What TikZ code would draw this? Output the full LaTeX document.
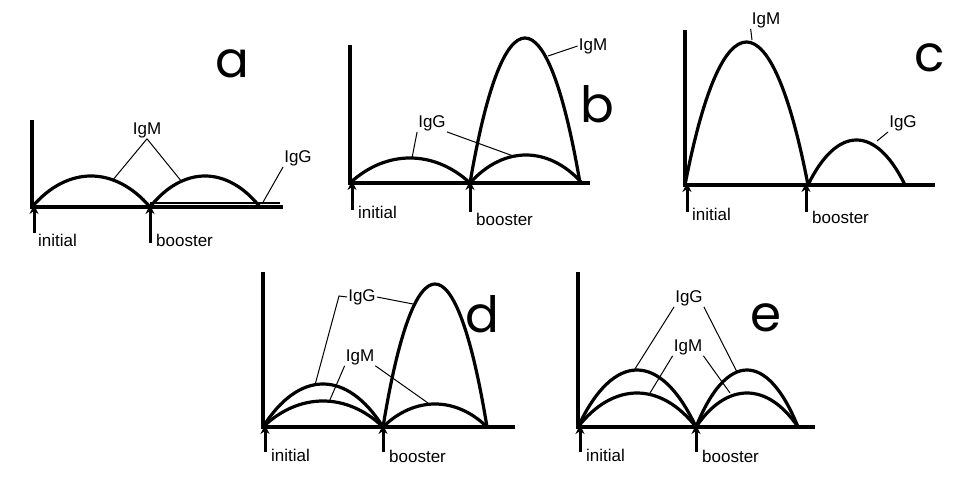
\documentclass[tikz,border=0pt]{standalone}
\usetikzlibrary{arrows.meta}
\usepackage{fontspec}
\setmainfont{Liberation Sans}
\newfontfamily\hand{Poppins}
\newcommand\hump[4]{%
 \pgfmathsetmacro\ha{#1+(#2-#1)*0.3}\pgfmathsetmacro\hb{#1+(#2-#1)*0.7}\pgfmathsetmacro\hy{#3+(#4-#3)*4/3}%
 \draw[curve] (#1,#3) .. controls (\ha,\hy) and (\hb,\hy) .. (#2,#3);}
\tikzset{curve/.style={line width=3.2pt,line join=round},
 axis/.style={line width=3.2pt},
 lead/.style={line width=1pt},
 lbl/.style={font=\fontsize{17}{19}\selectfont,inner sep=1pt},
 tag/.style={anchor=west,font=\fontsize{17}{19}\selectfont,inner sep=0pt},
 big/.style={font=\hand\fontsize{50}{50}\selectfont,inner sep=0pt},
 upar/.style={line width=3pt,-{Stealth[length=9pt,width=9pt]}}}
\begin{document}
\begin{tikzpicture}[x=1pt,y=-1pt]
\useasboundingbox (0,0) rectangle (960,486);
% ---- a
\draw[axis] (32,120) -- (32,207) -- (283,207);
\draw[line width=1.8pt] (150,203) -- (280,203);
\hump{32}{150}{207}{176}\hump{150}{260}{207}{176}
\node[lbl] (aM) at (147,130) {IgM};
\draw[lead] (aM.south) -- (112,181) (aM.south) -- (182,182);
\node[lbl] (aG) at (298,158) {IgG};
\draw[lead] (aG.south west) -- (262,204);
\draw[upar] (34,233) -- (34,205); \node[tag] (ai) at (38,240) {initial};
\draw[upar] (150,243) -- (150,205); \node[tag] (ab) at (156,240) {booster};
\node[big] (la) at (232,64) {a};
% ---- b
\draw[axis] (350,45) -- (350,183) -- (590,183);
\hump{350}{470}{183}{158}\hump{470}{582}{183}{155}\hump{470}{580}{183}{38}
\node[lbl] (bM) at (593,46) {IgM};
\draw[lead] (bM.west) -- (548,56);
\node[lbl] (bG) at (432,123) {IgG};
\draw[lead] (bG.south west) -- (412,158) (bG.south east) -- (516,157);
\draw[upar] (352,210) -- (352,181); \node[tag] (bi) at (358,212) {initial};
\draw[upar] (470,212) -- (470,181); \node[tag] (bb) at (476,219) {booster};
\node[big] (lb) at (597,104) {b};
% ---- c
\draw[axis] (685,30) -- (685,185) -- (935,185);
\hump{685}{808}{185}{42}\hump{808}{905}{185}{140}
\node[lbl] (cM) at (766,20) {IgM};
\draw[lead] (cM.south west) -- (752,40);
\node[lbl] (cG) at (903,123) {IgG};
\draw[lead] (cG.south west) -- (877,141);
\draw[upar] (687,212) -- (687,183); \node[tag] (ci) at (692,214) {initial};
\draw[upar] (806,212) -- (806,183); \node[tag] (cb) at (812,217) {booster};
\node[big] (lc) at (930,58) {c};
% ---- d
\draw[axis] (263,272) -- (263,427) -- (515,427);
\hump{263}{383}{427}{384}\hump{263}{383}{427}{401}
\hump{383}{487}{427}{284}\hump{383}{487}{427}{404}
\node[lbl] (dG) at (362,297) {IgG};
\draw[lead] (dG.west) -- (339,296) -- (315,385) (dG.east) -- (413,304);
\node[lbl] (dM) at (360,357) {IgM};
\draw[lead] (dM.south west) -- (329,402) (dM.south east) -- (428,403);
\draw[upar] (265,452) -- (265,425); \node[tag] (di) at (271,455) {initial};
\draw[upar] (383,452) -- (383,425); \node[tag] (db) at (389,456) {booster};
\node[big] (ld) at (482,314) {d};
% ---- e
\draw[axis] (578,272) -- (578,427) -- (815,427);
\hump{578}{696}{427}{370}\hump{578}{696}{427}{393}
\hump{696}{798}{427}{370}\hump{696}{798}{427}{393}
\node[lbl] (eG) at (689,298) {IgG};
\draw[lead] (eG.south west) -- (633,372) (eG.south east) -- (737,372);
\node[lbl] (eM) at (688,347) {IgM};
\draw[lead] (eM.south west) -- (650,393) (eM.south east) -- (730,393);
\draw[upar] (580,452) -- (580,425); \node[tag] (ei) at (586,455) {initial};
\draw[upar] (696,452) -- (696,425); \node[tag] (eb) at (702,456) {booster};
\node[big] (le) at (766,318) {e};
\end{tikzpicture}
\end{document}
